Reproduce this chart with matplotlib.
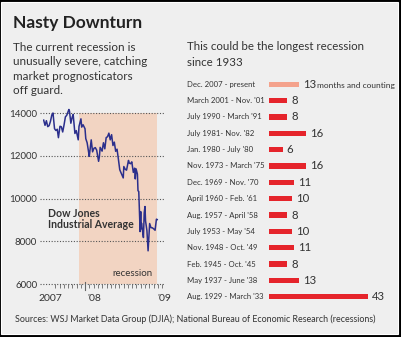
import matplotlib
matplotlib.use('Agg')
import matplotlib.pyplot as plt
import matplotlib.dates as mdates
from matplotlib.patches import Rectangle
import pandas as pd
import numpy as np

plt.rcParams['font.family'] = ['Lato', 'DejaVu Sans']

# Dow Jones Industrial Average
djia_dates = [
    '2007-06-01', '2007-06-08', '2007-06-15', '2007-06-22', '2007-06-29', '2007-07-06',
    '2007-07-13', '2007-07-19', '2007-07-27', '2007-08-03', '2007-08-10', '2007-08-16',
    '2007-08-24', '2007-08-31', '2007-09-07', '2007-09-14', '2007-09-21', '2007-09-28',
    '2007-10-09', '2007-10-12', '2007-10-19', '2007-10-26', '2007-10-31', '2007-11-09',
    '2007-11-16', '2007-11-26', '2007-11-30', '2007-12-10', '2007-12-14', '2007-12-21',
    '2007-12-31', '2008-01-04', '2008-01-11', '2008-01-22', '2008-01-25', '2008-02-01',
    '2008-02-08', '2008-02-15', '2008-02-22', '2008-02-29', '2008-03-10', '2008-03-14',
    '2008-03-18', '2008-03-28', '2008-04-04', '2008-04-11', '2008-04-18', '2008-04-25',
    '2008-05-02', '2008-05-09', '2008-05-16', '2008-05-23', '2008-05-30', '2008-06-06',
    '2008-06-13', '2008-06-20', '2008-06-27', '2008-07-03', '2008-07-15', '2008-07-18',
    '2008-07-25', '2008-08-01', '2008-08-11', '2008-08-15', '2008-08-22', '2008-08-28',
    '2008-09-05', '2008-09-12', '2008-09-15', '2008-09-19', '2008-09-26', '2008-09-29',
    '2008-10-03', '2008-10-10', '2008-10-13', '2008-10-15', '2008-10-17', '2008-10-24',
    '2008-10-27', '2008-10-31', '2008-11-04', '2008-11-07', '2008-11-14', '2008-11-20',
    '2008-11-28', '2008-12-05', '2008-12-12', '2008-12-19', '2008-12-26', '2009-01-02',
    '2009-01-06',
]
djia_values = [
    13668, 13424, 13640, 13361, 13409, 13612,
    13908, 14000, 13266, 13182, 13240, 12846,
    13379, 13358, 13113, 13443, 13821, 13896,
    14165, 14093, 13522, 13807, 13930, 13043,
    13177, 12744, 13372, 13727, 13340, 13450,
    13265, 12800, 12606, 11971, 12207, 12743,
    12183, 12348, 12381, 12266, 11740, 11951,
    12393, 12216, 12609, 12325, 12849, 12891,
    13058, 12745, 12986, 12479, 12638, 12209,
    12307, 11842, 11346, 11216, 10963, 11496,
    11370, 11326, 11782, 11659, 11628, 11715,
    11220, 11421, 10917, 11388, 11143, 10365,
    10325, 8451, 9387, 8578, 8852, 8378,
    8175, 9325, 9625, 8943, 8497, 7552,
    8829, 8635, 8629, 8579, 8515, 9034,
    9015,
]
recession_start = '2007-12-01'
y_ticks = [6000, 8000, 10000, 12000, 14000]
x_labels = ['2007', "'08", "'09"]
x_label_dates = ['2007-07-05', '2008-02-15', '2009-02-10']

# US recessions, length in months
periods = [
    'Dec. 2007 - present', "March 2001 - Nov. '01", "July 1990 - March '91",
    "July 1981- Nov. '82", "Jan. 1980 - July '80", "Nov. 1973 - March '75",
    "Dec. 1969 - Nov. '70", "April 1960 - Feb. '61", "Aug. 1957 - April '58",
    "July 1953 - May '54", "Nov. 1948 - Oct. '49", "Feb. 1945 - Oct. '45",
    "May 1937 - June '38", "Aug. 1929 - March '33",
]
months = [13, 8, 8, 16, 6, 16, 11, 10, 8, 10, 11, 8, 13, 43]

W, H = 402, 337
BG = '#efefef'
TXT = '#333333'
RED = '#e5242b'
PALE = '#f4a28c'
SHADE = '#f2d4c2'
LINE = '#2b2f8c'


def fx(x):
    return x / W


def fy(y):
    return 1 - y / H


fig = plt.figure(figsize=(W / 100, H / 100), dpi=100)
fig.patch.set_facecolor('black')
fig.patches.append(Rectangle((fx(1), fy(334)), fx(397), 332 / H, transform=fig.transFigure,
                             facecolor=BG, edgecolor='white', linewidth=0.8, zorder=-5))

fig.text(fx(13), fy(28.3), 'Nasty Downturn', fontsize=12.5, fontweight='bold', color='#222222')
left_lines = ['The current recession is', 'unusually severe, catching',
              'market prognosticators', 'off guard.']
for i, s in enumerate(left_lines):
    fig.text(fx(13), fy(51 + i * 14.4), s, fontsize=8.4, color=TXT)
fig.text(fx(187), fy(50), 'This could be the longest recession', fontsize=8.3, color=TXT)
fig.text(fx(187), fy(65.7), 'since 1933', fontsize=8.3, color=TXT)
fig.text(fx(15), fy(322), 'Sources: WSJ Market Data Group (DJIA); National Bureau of Economic '
         'Research (recessions)', fontsize=6.4, color=TXT)

# ---- line chart ----
dates = pd.to_datetime(djia_dates)
x0 = mdates.date2num(pd.Timestamp('2007-05-27'))
x1 = mdates.date2num(pd.Timestamp('2009-02-10'))
ax = fig.add_axes([fx(42.7), fy(284), (164 - 42.7) / W, (284 - 106.6) / H])
ax.set_facecolor('none')
for s in ax.spines.values():
    s.set_visible(False)
ax.set_xlim(x0, x1)
ax.set_ylim(6000, 14300)

ax.fill_between([mdates.date2num(pd.Timestamp(recession_start)), mdates.date2num(dates[-1])],
                6000, 14000, color=SHADE, linewidth=0, zorder=1)
for v in y_ticks:
    ax.axhline(v, xmin=-0.02, xmax=1.01, color='#555555', linewidth=0.8,
               linestyle=(0, (1, 1.5)), clip_on=False, zorder=2)
ax.plot(dates, djia_values, color=LINE, linewidth=1.1, zorder=3)

ax.set_yticks(y_ticks)
ax.set_yticklabels([f'{v}' for v in y_ticks])
ax.tick_params(axis='y', length=0, pad=4, labelsize=7, labelcolor=TXT)

ax.set_xticks(mdates.date2num(pd.to_datetime(x_label_dates)))
ax.set_xticklabels(x_labels)
ax.tick_params(axis='x', which='major', length=0, pad=7, labelsize=7.5, labelcolor=TXT)
minor = np.arange(mdates.date2num(pd.Timestamp('2008-01-01')) - 22 * 7, x1, 22)
ax.set_xticks(minor, minor=True)
ax.tick_params(axis='x', which='minor', length=3, width=0.6, color='#666666', direction='out')
ax.axvline(mdates.date2num(pd.Timestamp('2008-01-01')), ymin=-0.035, ymax=0.012,
           color='#666666', linewidth=0.8, clip_on=False)

ax.text(0.045, 1 - (216.7 - 106.6) / (284 - 106.6), 'Dow Jones', transform=ax.transAxes,
        fontsize=7.6, fontweight='bold', color=TXT, va='baseline')
ax.text(0.045, 1 - (227.7 - 106.6) / (284 - 106.6), 'Industrial Average', transform=ax.transAxes,
        fontsize=7.6, fontweight='bold', color=TXT, va='baseline')
ax.text(0.905, 1 - (276 - 106.6) / (284 - 106.6), 'recession', transform=ax.transAxes,
        fontsize=7, color=TXT, ha='right', va='baseline')

# ---- bar chart ----
bx = fig.add_axes([fx(269), fy(304.9), 131 / W, (304.9 - 76.1) / H])
bx.set_facecolor('none')
bx.axis('off')
bx.set_xlim(0, 131 / 2.31)
bx.set_ylim(len(months) - 0.5, -0.5)
rows = np.arange(len(months))
colors = [PALE] + [RED] * (len(months) - 1)
bx.barh(rows, months, height=0.32, color=colors, linewidth=0)
lab_x = (187 - 269) / 131
for i, (p, m) in enumerate(zip(periods, months)):
    bx.text(lab_x, i, p, transform=bx.get_yaxis_transform(), fontsize=5.6, color=TXT,
            va='center')
    bx.text(m + 1.6, i, str(m), fontsize=8.2, color=TXT, va='center')
bx.text(months[0] + 7.6, 0.05, 'months and counting', fontsize=6.0, color=TXT, va='center')

fig.savefig('out.png', dpi=100, facecolor=fig.get_facecolor())
